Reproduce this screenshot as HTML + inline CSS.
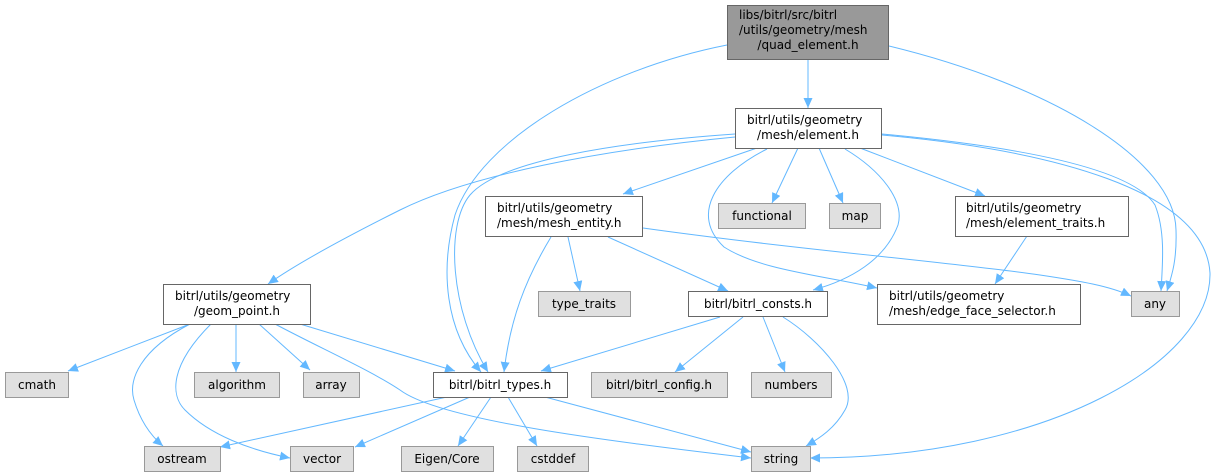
<!DOCTYPE html>
<html><head><meta charset="utf-8"><style>
html,body{margin:0;padding:0;background:#fff;}
svg{display:block;}
text{font-family:"DejaVu Sans","Liberation Sans",sans-serif;font-size:12px;fill:#000;}
.n{fill:#fff;stroke:#666;stroke-width:1;}
.g{fill:#e0e0e0;stroke:#999;stroke-width:1;}
.e{fill:none;stroke:#63b8ff;stroke-width:1;}
</style></head><body>
<svg width="1216" height="476" viewBox="0 0 1216 476" xmlns="http://www.w3.org/2000/svg">
<defs>
<marker id="a" markerWidth="11" markerHeight="10" refX="10" refY="4.5" orient="auto" markerUnits="userSpaceOnUse">
<path d="M0,0 L10,4.5 L0,9 z" fill="#63b8ff"/>
</marker>
</defs>
<g marker-end="url(#a)">
<path class="e" d="M808,60 L808,108"/>
<path class="e" d="M727,45 C600,70 480,140 455,215 C440,270 445,330 481,372"/>
<path class="e" d="M889,46 C1050,85 1175,160 1176,230 C1177,260 1172,275 1167,291"/>
<path class="e" d="M735,137 C600,150 470,175 400,210 C340,240 295,265 268,284"/>
<path class="e" d="M735,134 C620,142 500,160 470,195 C445,225 450,310 488,372"/>
<path class="e" d="M757,148 L623,194"/>
<path class="e" d="M798,148 L772,203"/>
<path class="e" d="M819,148 L843,203"/>
<path class="e" d="M767,149 C715,175 690,215 724,247 C760,270 820,275 877,288"/>
<path class="e" d="M845,149 C880,170 905,200 898,225 C885,260 850,280 813,290"/>
<path class="e" d="M860,148 L985,196"/>
<path class="e" d="M882,134 C1000,145 1130,165 1155,205 C1165,230 1163,260 1161,291"/>
<path class="e" d="M882,135 C1050,150 1205,190 1210,273 C1212,360 1050,458 810,458"/>
<path class="e" d="M551,237 C525,280 510,320 504,372"/>
<path class="e" d="M568,237 L580,291"/>
<path class="e" d="M608,237 L728,291"/>
<path class="e" d="M643,228 C800,250 950,262 1040,275 C1080,281 1110,286 1131,296"/>
<path class="e" d="M1027,236 L995,284"/>
<path class="e" d="M720,317 L541,371"/>
<path class="e" d="M743,317 L675,372"/>
<path class="e" d="M763,317 L785,372"/>
<path class="e" d="M783,317 C820,340 860,385 845,410 C835,428 820,438 806,446"/>
<path class="e" d="M190,324 L68,371"/>
<path class="e" d="M190,324 C140,350 128,380 134,400 C140,420 150,435 163,446"/>
<path class="e" d="M211,324 C170,365 170,395 185,410 C210,435 250,450 290,458"/>
<path class="e" d="M236,324 L236,372"/>
<path class="e" d="M259,324 L310,370"/>
<path class="e" d="M300,324 L455,371"/>
<path class="e" d="M275,324 C320,348 370,370 400,390 C440,420 600,440 751,458"/>
<path class="e" d="M447,397 L220,447"/>
<path class="e" d="M470,397 L355,447"/>
<path class="e" d="M491,397 L458,446"/>
<path class="e" d="M508,397 L537,446"/>
<path class="e" d="M545,397 L751,452"/>
</g>
<rect x="727.5" y="5.5" width="161" height="54" fill="#999" stroke="#666"/>
<text x="739" y="19">libs/bitrl/src/bitrl</text>
<text x="739" y="34">/utils/geometry/mesh</text>
<text x="808" y="49" text-anchor="middle">/quad_element.h</text>

<rect class="n" x="735.5" y="108.5" width="146" height="40"/>
<text x="747" y="124">bitrl/utils/geometry</text>
<text x="808" y="139" text-anchor="middle">/mesh/element.h</text>

<rect class="n" x="485.5" y="196.5" width="157" height="40"/>
<text x="497" y="212">bitrl/utils/geometry</text>
<text x="497" y="227">/mesh/mesh_entity.h</text>

<rect class="g" x="718.5" y="203.5" width="87" height="25"/>
<text x="762" y="220" text-anchor="middle">functional</text>
<rect class="g" x="829.5" y="203.5" width="51" height="25"/>
<text x="855" y="220" text-anchor="middle">map</text>

<rect class="n" x="955.5" y="196.5" width="173" height="40"/>
<text x="966" y="212">bitrl/utils/geometry</text>
<text x="966" y="227">/mesh/element_traits.h</text>

<rect class="n" x="163.5" y="284.5" width="147" height="40"/>
<text x="175" y="300">bitrl/utils/geometry</text>
<text x="237" y="315" text-anchor="middle">/geom_point.h</text>

<rect class="g" x="538.5" y="291.5" width="92" height="25"/>
<text x="584" y="308" text-anchor="middle">type_traits</text>

<rect class="n" x="688.5" y="291.5" width="139" height="25"/>
<text x="758" y="308" text-anchor="middle">bitrl/bitrl_consts.h</text>

<rect class="n" x="877.5" y="284.5" width="203" height="40"/>
<text x="889" y="300">bitrl/utils/geometry</text>
<text x="889" y="315">/mesh/edge_face_selector.h</text>

<rect class="g" x="1131.5" y="291.5" width="48" height="25"/>
<text x="1155" y="308" text-anchor="middle">any</text>

<rect class="g" x="5.5" y="372.5" width="63" height="25"/>
<text x="37" y="389" text-anchor="middle">cmath</text>
<rect class="g" x="194.5" y="372.5" width="85" height="25"/>
<text x="237" y="389" text-anchor="middle">algorithm</text>
<rect class="g" x="303.5" y="372.5" width="56" height="25"/>
<text x="331" y="389" text-anchor="middle">array</text>
<rect x="433.5" y="372.5" width="134" height="25" fill="#fff" stroke="#666"/>
<text x="500" y="389" text-anchor="middle">bitrl/bitrl_types.h</text>
<rect class="g" x="591.5" y="372.5" width="136" height="25"/>
<text x="659" y="389" text-anchor="middle">bitrl/bitrl_config.h</text>
<rect class="g" x="751.5" y="372.5" width="80" height="25"/>
<text x="791" y="389" text-anchor="middle">numbers</text>

<rect class="g" x="144.5" y="446.5" width="76" height="25"/>
<text x="182" y="463" text-anchor="middle">ostream</text>
<rect class="g" x="290.5" y="446.5" width="63" height="25"/>
<text x="322" y="463" text-anchor="middle">vector</text>
<rect class="g" x="401.5" y="446.5" width="92" height="25"/>
<text x="447" y="463" text-anchor="middle">Eigen/Core</text>
<rect class="g" x="517.5" y="446.5" width="71" height="25"/>
<text x="553" y="463" text-anchor="middle">cstddef</text>
<rect class="g" x="751.5" y="446.5" width="59" height="25"/>
<text x="781" y="463" text-anchor="middle">string</text>
</svg>
</body></html>
